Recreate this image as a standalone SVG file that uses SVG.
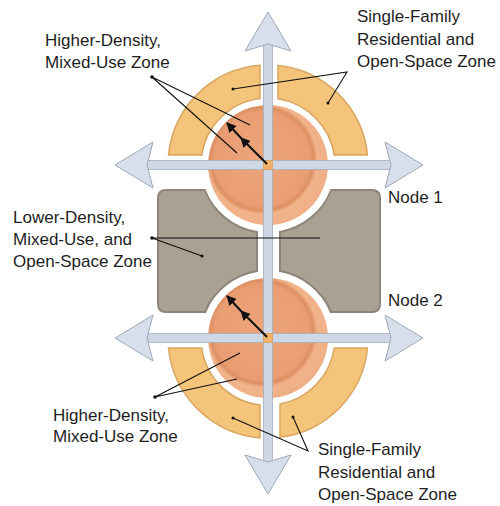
<svg xmlns="http://www.w3.org/2000/svg" width="500" height="506" viewBox="0 0 500 506">
<defs>
<style>
.lbl{font-family:"Liberation Sans",Arial,sans-serif;font-size:17px;fill:#1e1e1e}
.ring{fill:#f3c47a;stroke:#d9a55e;stroke-width:1.5}
.blk{fill:#a9a192;stroke:#8c8579;stroke-width:2}
.shaft{fill:#cdd7e5;stroke:#a3aebf;stroke-width:0.8}
.head{fill:#d7dfeb;stroke:#9ea9ba;stroke-width:1}
.lead{fill:none;stroke:#111;stroke-width:1.1}
.dot{fill:#111}
.exp{fill:none;stroke:#111;stroke-width:2;marker-mid:url(#ah);marker-end:url(#ah)}
</style>
<marker id="ah" viewBox="0 0 10 10" refX="9" refY="5" markerWidth="5" markerHeight="5" orient="auto" markerUnits="strokeWidth">
<path d="M0,0 L10,5 L0,10 Z" fill="#111"/>
</marker>
<radialGradient id="disk" cx="0.45" cy="0.45" r="0.55">
<stop offset="0" stop-color="#eda57c"/>
<stop offset="0.72" stop-color="#e99d72"/>
<stop offset="0.78" stop-color="#dc8f62"/>
<stop offset="0.84" stop-color="#f2b38a"/>
<stop offset="1" stop-color="#f0b087"/>
</radialGradient>
</defs>
<rect width="500" height="506" fill="#fff"/>

<g id="lower-density-zone">
<path class="blk" d="M166,190 L204.8,190 A68,68 0 0 0 257,232.1 L257,270.9 A68,68 0 0 0 205.2,312 L166,312 Q158,312 158,304 L158,198 Q158,190 166,190 Z"/>
<path class="blk" d="M331.2,190 L372,190 Q380,190 380,198 L380,304 Q380,312 372,312 L330.8,312 A68,68 0 0 0 280,271.1 L280,231.9 A68,68 0 0 0 331.2,190 Z"/>
</g>

<g id="single-family-zone-1">
<path class="ring" d="M168.5,155 A100,100 0 0 1 260,65.3 L260,98.5 A67,67 0 0 0 201.8,155 Z"/>
<path class="ring" d="M278,65.5 A100,100 0 0 1 367.5,155 L334.2,155 A67,67 0 0 0 278,98.8 Z"/>
</g>
<g id="single-family-zone-2">
<path class="ring" d="M168.5,348 A100,100 0 0 0 260,437.7 L260,405 A67,67 0 0 1 201.8,348 Z"/>
<path class="ring" d="M280,437.3 A100,100 0 0 0 367.5,348 L334.2,348 A67,67 0 0 1 280,404 Z"/>
</g>

<g id="node-1">
<circle cx="268" cy="165" r="64" fill="#fff"/>
<circle cx="268" cy="165" r="60" fill="url(#disk)"/>
</g>
<g id="node-2">
<circle cx="268" cy="338" r="64" fill="#fff"/>
<circle cx="268" cy="338" r="60" fill="url(#disk)"/>
</g>

<g id="connectors">
<rect class="shaft" x="263.5" y="44" width="9" height="418"/>
<rect class="shaft" x="147" y="160.5" width="244" height="9"/>
<rect class="shaft" x="147" y="333.5" width="244" height="9"/>
<polygon class="head" points="268,12 291,51 268,44 245,51"/>
<polygon class="head" points="268,494 291,455 268,462 245,455"/>
<polygon class="head" points="115,165 153,142 147,165 153,188"/>
<polygon class="head" points="423,165 385,142 391,165 385,188"/>
<polygon class="head" points="115,338 153,315 147,338 153,361"/>
<polygon class="head" points="423,338 385,315 391,338 385,361"/>
<rect x="263.5" y="160.5" width="9" height="9" fill="#f2b26c" stroke="#dc9d5c" stroke-width="0.8"/>
<rect x="263.5" y="333.5" width="9" height="9" fill="#f2b26c" stroke="#dc9d5c" stroke-width="0.8"/>
<path class="exp" d="M267,164 L241,138 L227,123"/>
<path class="exp" d="M267,337 L241,311 L227,296"/>
<polyline class="lead" points="250,125 152,77 237,153"/>
<polyline class="lead" points="233,89 347,72 328,103"/>
<polyline class="lead" points="320,238 152,238 202,256"/>
<polyline class="lead" points="240,353 155,397 237,379"/>
<polyline class="lead" points="233,418 308,451 293,417"/>
<circle class="dot" cx="152" cy="77" r="1.8"/>
<circle class="dot" cx="233" cy="89" r="1.5"/>
<circle class="dot" cx="328" cy="103" r="1.5"/>
<circle class="dot" cx="152" cy="238" r="1.8"/>
<circle class="dot" cx="202" cy="256" r="1.5"/>
<circle class="dot" cx="155" cy="397" r="1.8"/>
<circle class="dot" cx="233" cy="418" r="1.5"/>
<circle class="dot" cx="293" cy="417" r="1.5"/>
</g>

<g id="labels">
<text class="lbl" x="45" y="46">Higher-Density,</text>
<text class="lbl" x="45" y="68">Mixed-Use Zone</text>
<text class="lbl" x="357" y="22">Single-Family</text>
<text class="lbl" x="357" y="45">Residential and</text>
<text class="lbl" x="357" y="67">Open-Space Zone</text>
<text class="lbl" x="13" y="223">Lower-Density,</text>
<text class="lbl" x="13" y="245">Mixed-Use, and</text>
<text class="lbl" x="13" y="267">Open-Space Zone</text>
<text class="lbl" x="388" y="203">Node 1</text>
<text class="lbl" x="388" y="306">Node 2</text>
<text class="lbl" x="53" y="421">Higher-Density,</text>
<text class="lbl" x="53" y="442">Mixed-Use Zone</text>
<text class="lbl" x="318" y="455">Single-Family</text>
<text class="lbl" x="318" y="478">Residential and</text>
<text class="lbl" x="318" y="500">Open-Space Zone</text>
</g>
</svg>
